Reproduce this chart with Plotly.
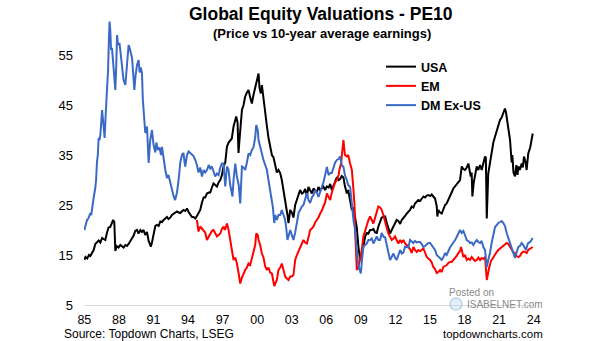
import plotly.graph_objects as go

# ---------------- data ----------------
usa_years = [1985.0, 1985.1, 1985.25, 1985.4, 1985.52, 1985.7, 1985.81, 1985.95, 1986.1, 1986.24, 1986.39, 1986.54, 1986.67, 1986.82, 1986.97,
             1987.1, 1987.25, 1987.4, 1987.5, 1987.6, 1987.69, 1987.8, 1987.97, 1988.12, 1988.27, 1988.41, 1988.56, 1988.7, 1988.84,
             1989.0, 1989.14, 1989.28, 1989.42, 1989.57, 1989.71, 1989.86, 1990.0, 1990.14, 1990.29, 1990.44, 1990.58, 1990.72, 1990.78,
             1990.87, 1991.01, 1991.16, 1991.31, 1991.45, 1991.59, 1991.74, 1991.88, 1992.03, 1992.17, 1992.3, 1992.46, 1992.6, 1992.75,
             1992.9, 1993.04, 1993.2, 1993.33, 1993.5, 1993.61, 1993.76, 1993.91, 1994.05, 1994.19, 1994.34, 1994.48, 1994.63, 1994.77,
             1994.91, 1995.06, 1995.21, 1995.35, 1995.49, 1995.64, 1995.8, 1995.93, 1996.07, 1996.21, 1996.36, 1996.51, 1996.65, 1996.8,
             1996.94, 1997.08, 1997.23, 1997.38, 1997.52, 1997.66, 1997.8, 1997.95, 1998.1, 1998.18, 1998.3, 1998.38, 1998.5, 1998.68,
             1998.82, 1998.96, 1999.11, 1999.25, 1999.4, 1999.54, 1999.68, 1999.83, 1999.95, 2000.05, 2000.12, 2000.2, 2000.32, 2000.41,
             2000.55, 2000.7, 2000.85, 2000.98, 2001.13, 2001.28, 2001.42, 2001.57, 2001.71, 2001.85, 2002.0, 2002.14, 2002.29, 2002.43,
             2002.52, 2002.63, 2002.72, 2002.87, 2003.01, 2003.15, 2003.3, 2003.45, 2003.6, 2003.73, 2003.88, 2004.02, 2004.17, 2004.32,
             2004.45, 2004.6, 2004.75, 2004.89, 2005.03, 2005.18, 2005.32, 2005.47, 2005.6, 2005.75, 2005.9, 2006.05, 2006.2, 2006.34,
             2006.48, 2006.62, 2006.77, 2006.92, 2007.07, 2007.2, 2007.34, 2007.49, 2007.6, 2007.78, 2007.9, 2008.07, 2008.22, 2008.36,
             2008.5, 2008.65, 2008.79, 2008.94, 2009.08, 2009.22, 2009.37, 2009.52, 2009.66, 2009.8, 2009.95, 2010.09, 2010.24, 2010.38,
             2010.52, 2010.67, 2010.81, 2010.95, 2011.11, 2011.24, 2011.39, 2011.54, 2011.68, 2011.83, 2011.97, 2012.11, 2012.26, 2012.41,
             2012.55, 2012.69, 2012.84, 2012.99, 2013.13, 2013.27, 2013.42, 2013.56, 2013.7, 2013.85, 2013.99, 2014.14, 2014.28, 2014.43,
             2014.57, 2014.72, 2014.86, 2015.01, 2015.15, 2015.29, 2015.44, 2015.59, 2015.64, 2015.73, 2015.88, 2016.02, 2016.16, 2016.31,
             2016.45, 2016.6, 2016.74, 2016.88, 2017.03, 2017.18, 2017.32, 2017.46, 2017.61, 2017.76, 2017.9, 2018.04, 2018.19, 2018.33,
             2018.45, 2018.54, 2018.62, 2018.68, 2018.8, 2018.91, 2019.06, 2019.2, 2019.35, 2019.49, 2019.65, 2019.78, 2019.85, 2019.93,
             2020.06, 2020.2, 2020.36, 2020.5, 2020.65, 2020.8, 2020.93, 2021.08, 2021.22, 2021.37, 2021.51, 2021.6, 2021.71, 2021.8,
             2021.95, 2022.09, 2022.15, 2022.25, 2022.38, 2022.5, 2022.6, 2022.67, 2022.8, 2022.96, 2023.06, 2023.16, 2023.3, 2023.39,
             2023.53, 2023.7, 2023.92]
usa_values = [14.0, 14.6, 14.3, 15.0, 14.8, 15.6, 16.0, 17.2, 17.6, 17.9, 17.5, 18.4, 18.2, 18.0, 19.5,
              20.5, 20.6, 21.5, 22.0, 21.6, 15.8, 16.8, 16.5, 17.0, 16.8, 16.5, 17.0, 16.8, 17.2,
              17.8, 18.3, 18.9, 19.8, 20.0, 19.3, 20.0, 19.6, 20.0, 19.0, 19.6, 17.8, 17.0, 16.7,
              17.5, 19.5, 20.8, 21.0, 20.8, 21.7, 21.6, 22.0, 22.4, 22.6, 22.2, 22.5, 23.0, 23.3,
              23.5, 23.7, 23.5, 23.4, 23.8, 24.0, 23.8, 24.3, 23.6, 23.0, 22.6, 22.6, 22.3, 22.8,
              23.3, 24.0, 25.5, 26.5, 26.5, 27.3, 27.5, 27.5, 28.5, 29.3, 29.0, 28.7, 29.5, 30.0,
              31.0, 32.7, 33.5, 36.7, 37.5, 38.0, 38.3, 40.7, 42.0, 42.7, 41.5, 35.4, 39.0, 44.0,
              45.0, 46.7, 47.5, 48.0, 46.5, 45.3, 47.0, 48.7, 50.0, 50.5, 51.3, 48.5, 47.3, 49.0,
              46.0, 44.0, 40.7, 38.5, 36.7, 35.0, 34.5, 32.5, 31.5, 32.0, 31.4, 30.0, 28.0, 26.5,
              24.7, 23.0, 21.4, 24.0, 23.5, 22.5, 25.0, 26.0, 27.0, 28.0, 27.3, 27.5, 28.2, 26.8,
              28.6, 28.0, 27.3, 28.3, 28.0, 27.5, 28.6, 28.0, 28.3, 28.7, 28.0, 28.7, 28.5, 29.2,
              28.0, 28.8, 30.0, 30.6, 30.0, 30.2, 30.8, 30.5, 29.0, 27.3, 28.0, 25.5, 24.0, 24.5,
              22.6, 20.5, 16.6, 14.0, 15.3, 16.6, 18.7, 19.4, 19.3, 20.0, 20.0, 20.2, 19.5, 19.4,
              20.7, 21.5, 22.5, 22.6, 22.7, 21.5, 20.6, 19.3, 20.0, 20.7, 21.3, 22.0, 21.8, 21.2,
              22.0, 22.3, 22.8, 23.3, 23.7, 24.0, 24.7, 24.5, 25.3, 25.6, 26.0, 25.8, 26.3, 26.7,
              26.5, 26.9, 27.0, 26.8, 27.1, 26.6, 26.3, 24.7, 22.7, 24.0, 23.5, 23.3, 24.2, 25.0,
              25.3, 26.2, 26.7, 27.5, 28.3, 28.7, 29.2, 29.5, 30.0, 32.7, 32.2, 32.0, 32.5, 33.3,
              32.0, 30.7, 31.5, 26.7, 29.5, 31.3, 32.7, 32.0, 33.0, 32.0, 33.5, 34.7, 34.5, 22.3,
              31.3, 33.5, 36.0, 37.5, 38.7, 40.0, 41.0, 42.0, 42.5, 43.7, 44.3, 43.5, 42.0, 40.5,
              38.0, 33.5, 35.0, 31.5, 30.7, 33.0, 31.0, 32.7, 32.0, 33.3, 32.5, 34.7, 33.5, 32.0,
              35.3, 36.5, 39.3]

em_years = [1994.77, 1994.85, 1994.91, 1995.06, 1995.21, 1995.35, 1995.49, 1995.64, 1995.8, 1995.93, 1996.07, 1996.21, 1996.36,
            1996.51, 1996.65, 1996.8, 1996.94, 1997.08, 1997.2, 1997.38, 1997.52, 1997.66, 1997.8, 1997.95, 1998.1, 1998.24, 1998.38,
            1998.53, 1998.68, 1998.82, 1998.96, 1999.11, 1999.25, 1999.4, 1999.54, 1999.68, 1999.83, 1999.92, 2000.05, 2000.12, 2000.26,
            2000.41, 2000.55, 2000.7, 2000.85, 2000.98, 2001.13, 2001.28, 2001.42, 2001.48, 2001.57, 2001.71, 2001.85, 2002.0, 2002.14,
            2002.29, 2002.43, 2002.58, 2002.72, 2002.87, 2003.01, 2003.15, 2003.3, 2003.45, 2003.6, 2003.73, 2003.88, 2004.02, 2004.17,
            2004.32, 2004.45, 2004.6, 2004.75, 2004.89, 2005.03, 2005.18, 2005.32, 2005.47, 2005.6, 2005.75, 2005.9, 2006.05, 2006.2,
            2006.34, 2006.48, 2006.62, 2006.77, 2006.92, 2007.07, 2007.14, 2007.3, 2007.34, 2007.49, 2007.55, 2007.62, 2007.78, 2007.9,
            2008.07, 2008.22, 2008.36, 2008.45, 2008.5, 2008.6, 2008.65, 2008.79, 2008.94, 2009.08, 2009.22, 2009.37, 2009.52, 2009.66,
            2009.8, 2009.95, 2010.09, 2010.24, 2010.38, 2010.52, 2010.67, 2010.81, 2010.95, 2011.11, 2011.24, 2011.39, 2011.54, 2011.68,
            2011.83, 2011.97, 2012.11, 2012.26, 2012.41, 2012.55, 2012.69, 2012.84, 2012.99, 2013.13, 2013.27, 2013.42, 2013.56, 2013.7,
            2013.85, 2013.99, 2014.14, 2014.28, 2014.43, 2014.57, 2014.72, 2014.86, 2015.01, 2015.15, 2015.29, 2015.44, 2015.59, 2015.73,
            2015.88, 2016.02, 2016.16, 2016.31, 2016.45, 2016.6, 2016.74, 2016.88, 2017.03, 2017.18, 2017.32, 2017.46, 2017.61, 2017.7,
            2017.76, 2017.9, 2018.04, 2018.19, 2018.33, 2018.48, 2018.62, 2018.77, 2018.91, 2019.06, 2019.2, 2019.35, 2019.49, 2019.63,
            2019.78, 2019.93, 2020.06, 2020.15, 2020.3, 2020.5, 2020.65, 2020.79, 2020.93, 2021.08, 2021.22, 2021.37, 2021.51, 2021.66,
            2021.8, 2021.95, 2022.09, 2022.23, 2022.38, 2022.52, 2022.67, 2022.8, 2022.96, 2023.1, 2023.25, 2023.39, 2023.53, 2023.7,
            2023.92]
em_values = [22.0, 20.5, 19.7, 20.7, 20.3, 20.0, 19.5, 18.0, 18.8, 19.3, 19.8, 20.0, 19.2,
             18.7, 19.0, 19.3, 20.2, 20.7, 20.0, 21.3, 20.0, 18.0, 16.0, 14.0, 14.5, 13.3, 11.5,
             9.3, 10.5, 11.3, 12.0, 12.5, 13.3, 13.0, 14.5, 15.3, 17.0, 19.3, 19.0, 18.0, 17.0,
             15.3, 14.5, 12.7, 12.0, 12.5, 11.5, 11.3, 9.5, 8.8, 9.3, 10.0, 12.0, 12.5, 13.3,
             12.0, 10.7, 10.3, 10.0, 10.7, 10.7, 11.0, 14.0, 15.0, 15.8, 16.7, 17.5, 18.0, 17.5,
             17.3, 18.5, 20.0, 20.3, 20.7, 21.5, 22.0, 22.5, 23.3, 23.8, 24.7, 25.5, 27.3, 26.5,
             26.0, 27.5, 28.7, 29.5, 30.0, 31.0, 32.0, 33.5, 34.7, 38.0, 36.5, 35.0, 34.7, 35.0,
             33.3, 32.0, 28.0, 25.0, 20.0, 15.0, 12.0, 12.5, 14.0, 16.0, 18.7, 20.0, 21.3, 22.0,
             22.7, 22.0, 21.3, 22.5, 23.5, 24.7, 24.5, 24.0, 23.0, 21.3, 20.5, 19.3, 18.5, 18.0,
             18.3, 18.7, 18.0, 17.3, 18.0, 17.5, 18.0, 17.3, 17.0, 16.7, 16.2, 15.4, 16.6, 16.0,
             15.6, 16.0, 15.8, 16.0, 16.3, 15.5, 14.6, 14.3, 14.0, 13.5, 12.6, 12.2, 11.4, 11.6,
             12.0, 11.6, 12.6, 12.8, 13.0, 13.4, 13.6, 13.6, 14.0, 14.3, 14.8, 15.4, 15.8, 16.6,
             16.0, 14.6, 15.0, 14.0, 14.3, 14.0, 14.6, 14.2, 13.8, 14.0, 14.5, 14.0, 14.4, 14.2,
             14.6, 10.0, 12.0, 12.6, 13.8, 14.6, 15.3, 15.6, 16.0, 16.3, 16.6, 16.8, 17.0, 17.4,
             17.2, 16.6, 16.0, 15.6, 15.4, 14.8, 14.6, 14.8, 15.4, 15.7, 15.6, 15.4, 16.0, 16.2,
             16.6]

dm_years = [1985.0, 1985.1, 1985.23, 1985.35, 1985.52, 1985.6, 1985.7, 1985.81, 1985.95, 1986.02, 1986.1, 1986.17, 1986.24,
            1986.32, 1986.39, 1986.47, 1986.54, 1986.62, 1986.76, 1986.85, 1986.97, 1987.06, 1987.13, 1987.19, 1987.25, 1987.32,
            1987.4, 1987.5, 1987.6, 1987.69, 1987.77, 1987.84, 1987.92, 1988.05, 1988.12, 1988.27, 1988.4, 1988.56, 1988.68, 1988.84,
            1988.92, 1989.05, 1989.14, 1989.28, 1989.34, 1989.45, 1989.57, 1989.71, 1989.8, 1989.9, 1990.0, 1990.08, 1990.2, 1990.29,
            1990.44, 1990.52, 1990.58, 1990.72, 1990.87, 1991.01, 1991.16, 1991.25, 1991.38, 1991.53, 1991.65, 1991.74, 1991.88,
            1992.03, 1992.17, 1992.3, 1992.46, 1992.6, 1992.75, 1992.88, 1993.04, 1993.18, 1993.33, 1993.47, 1993.61, 1993.7, 1993.76,
            1993.91, 1994.05, 1994.19, 1994.34, 1994.48, 1994.63, 1994.77, 1994.91, 1995.06, 1995.21, 1995.35, 1995.49, 1995.64,
            1995.8, 1995.93, 1996.07, 1996.21, 1996.36, 1996.51, 1996.65, 1996.8, 1996.94, 1997.08, 1997.23, 1997.38, 1997.52,
            1997.66, 1997.86, 1997.95, 1998.1, 1998.24, 1998.4, 1998.53, 1998.68, 1998.82, 1998.96, 1999.11, 1999.25, 1999.4,
            1999.54, 1999.68, 1999.83, 1999.92, 2000.05, 2000.12, 2000.26, 2000.41, 2000.55, 2000.7, 2000.85, 2000.98, 2001.13,
            2001.28, 2001.37, 2001.48, 2001.57, 2001.71, 2001.85, 2002.0, 2002.14, 2002.29, 2002.43, 2002.52, 2002.63, 2002.75,
            2002.87, 2003.01, 2003.15, 2003.3, 2003.45, 2003.6, 2003.73, 2003.88, 2004.02, 2004.17, 2004.32, 2004.45, 2004.6,
            2004.75, 2004.89, 2005.03, 2005.18, 2005.32, 2005.47, 2005.6, 2005.75, 2005.9, 2006.05, 2006.2, 2006.34, 2006.48,
            2006.62, 2006.77, 2006.92, 2007.07, 2007.2, 2007.34, 2007.49, 2007.62, 2007.78, 2007.9, 2008.07, 2008.22, 2008.36,
            2008.5, 2008.6, 2008.72, 2008.8, 2008.94, 2009.0, 2009.1, 2009.22, 2009.37, 2009.52, 2009.66, 2009.8, 2009.95, 2010.09,
            2010.24, 2010.38, 2010.52, 2010.67, 2010.81, 2010.95, 2011.11, 2011.24, 2011.39, 2011.54, 2011.68, 2011.83, 2011.97,
            2012.11, 2012.26, 2012.41, 2012.55, 2012.69, 2012.84, 2012.99, 2013.13, 2013.27, 2013.42, 2013.56, 2013.7, 2013.85,
            2013.99, 2014.14, 2014.28, 2014.43, 2014.57, 2014.72, 2014.86, 2015.01, 2015.15, 2015.29, 2015.44, 2015.59, 2015.73,
            2015.88, 2016.02, 2016.16, 2016.31, 2016.45, 2016.6, 2016.74, 2016.88, 2017.03, 2017.18, 2017.32, 2017.46, 2017.61,
            2017.76, 2017.9, 2018.04, 2018.19, 2018.33, 2018.48, 2018.62, 2018.77, 2018.91, 2019.06, 2019.2, 2019.35, 2019.49,
            2019.63, 2019.78, 2019.93, 2020.06, 2020.21, 2020.36, 2020.5, 2020.65, 2020.8, 2020.93, 2021.08, 2021.22, 2021.37,
            2021.51, 2021.66, 2021.8, 2021.95, 2022.09, 2022.23, 2022.38, 2022.52, 2022.67, 2022.8, 2022.96, 2023.1, 2023.25,
            2023.33, 2023.45, 2023.53, 2023.7, 2023.92]
dm_values = [20.0, 21.0, 22.0, 22.3, 23.4, 23.0, 25.0, 26.5, 28.4, 30.0, 33.7, 35.0, 38.4,
             38.0, 39.0, 41.5, 44.0, 42.0, 38.4, 43.0, 47.0, 52.0, 58.0, 61.7, 60.0, 56.0,
             56.4, 54.0, 51.0, 48.0, 53.0, 59.0, 57.0, 57.4, 56.0, 52.0, 50.0, 49.0, 53.0, 57.0,
             56.5, 55.0, 54.4, 50.0, 48.0, 51.0, 53.0, 54.0, 51.5, 52.5, 51.4, 46.0, 42.0, 39.4,
             40.7, 36.0, 33.4, 38.0, 40.0, 37.0, 35.5, 37.5, 36.0, 36.5, 35.0, 36.6, 34.0,
             32.0, 30.4, 31.0, 29.5, 28.0, 26.7, 26.0, 27.5, 30.0, 33.5, 35.0, 35.4, 33.5, 32.7,
             35.0, 35.7, 35.4, 35.0, 34.8, 34.0, 33.0, 31.5, 32.5, 30.7, 32.0, 31.5, 32.0,
             33.0, 32.3, 32.7, 31.8, 30.7, 31.3, 31.0, 32.5, 33.3, 33.3, 28.7, 32.7, 32.0,
             29.0, 26.7, 30.0, 33.3, 30.7, 29.0, 25.3, 32.7, 32.5, 32.0, 33.5, 35.3, 35.0,
             36.0, 36.5, 38.5, 41.0, 40.0, 38.0, 36.5, 35.0, 34.0, 33.0, 32.0, 30.0, 28.0,
             26.0, 24.5, 21.4, 23.0, 22.0, 23.0, 23.0, 24.0, 23.0, 22.0, 20.5, 18.0, 19.0,
             20.0, 19.0, 18.0, 19.5, 22.0, 23.5, 24.0, 24.7, 25.0, 26.0, 27.4, 26.0, 25.4,
             26.5, 27.0, 28.0, 27.5, 26.6, 27.5, 28.5, 29.5, 31.0, 32.6, 31.0, 31.4, 31.4,
             32.5, 33.5, 34.0, 34.2, 34.7, 33.0, 32.6, 31.0, 30.0, 29.0, 28.6, 24.6, 22.0,
             20.0, 16.7, 14.0, 12.7, 11.4, 11.3, 14.0, 16.7, 17.0, 17.3, 18.0, 18.0, 18.3, 17.3,
             18.0, 18.7, 18.0, 18.0, 19.4, 18.7, 18.5, 16.7, 15.5, 14.0, 14.6, 15.3, 14.5,
             14.0, 15.0, 16.0, 15.3, 15.5, 16.7, 16.6, 16.5, 18.0, 17.6, 17.4, 17.8, 17.5,
             17.6, 17.6, 17.2, 16.6, 16.8, 17.2, 17.4, 17.4, 17.0, 16.6, 16.0, 15.0, 14.6,
             14.4, 14.0, 14.5, 15.4, 15.0, 16.0, 16.5, 17.0, 17.4, 18.0, 18.6, 19.2, 20.0,
             19.4, 19.8, 19.0, 18.0, 17.8, 17.4, 17.5, 17.0, 17.6, 18.0, 17.6, 17.4, 17.8,
             16.6, 16.0, 12.6, 14.0, 15.4, 17.5, 19.0, 20.6, 21.0, 21.4, 21.6, 21.8, 21.4,
             20.8, 19.4, 18.4, 17.4, 16.5, 15.6, 14.4, 15.5, 16.6, 16.8, 17.4, 17.0, 16.4,
             16.0, 17.0, 17.4, 17.6, 18.4]

tick_years = [1985, 1988, 1991, 1994, 1997, 2000, 2003, 2006, 2009, 2012, 2015, 2018, 2021, 2024]
tick_labels = ["85", "88", "91", "94", "97", "00", "03", "06", "09", "12", "15", "18", "21", "24"]
y_ticks = [5, 15, 25, 35, 45, 55]

series_names = ["USA", "EM", "DM Ex-US"]
series_colors = ["#000000", "#ff0000", "#3a6ac6"]

# ---------------- figure ----------------
FONT = "Liberation Sans, Arial, sans-serif"
L, R, T, B = 84, 71, 15, 36
W, H = 605, 341
PW, PH = W - L - R, H - T - B


def px(x):
    return (x - L) / PW


def py(y):
    return (H - B - y) / PH


fig = go.Figure()
for name, xs, ys, col in zip(series_names,
                             [usa_years, em_years, dm_years],
                             [usa_values, em_values, dm_values],
                             series_colors):
    fig.add_trace(go.Scatter(x=xs, y=ys, mode="lines", name="<b>" + name + "</b>",
                             line=dict(color=col, width=2)))

annotations = [
    dict(text="<b>Global Equity Valuations - PE10</b>", x=px(321), y=py(14),
         font=dict(size=17.5, color="#000000")),
    dict(text="<b>(Price vs 10-year average earnings)</b>", x=px(322), y=py(33),
         font=dict(size=13, color="#000000")),
    dict(text="Source: Topdown Charts, LSEG", x=px(62), y=py(334), xanchor="left",
         font=dict(size=12, color="#000000")),
    dict(text="topdowncharts.com", x=px(545), y=py(334), xanchor="right",
         font=dict(size=11.5, color="#000000")),
    dict(text="Posted on", x=px(447), y=py(292), xanchor="left",
         font=dict(size=10, color="#8a8a8a")),
    dict(text="ISABELNET.com", x=px(465), y=py(304), xanchor="left",
         font=dict(size=10, color="#8a8a8a")),
]
for a in annotations:
    a.setdefault("xanchor", "center")
    a.update(xref="paper", yref="paper", yanchor="middle", showarrow=False)

fig.update_layout(
    width=W, height=H,
    margin=dict(l=L, r=R, t=T, b=B, pad=0),
    paper_bgcolor="white", plot_bgcolor="white",
    font=dict(family=FONT, size=13, color="#000000"),
    showlegend=True,
    legend=dict(x=px(381), y=py(52), xanchor="left", yanchor="top",
                bgcolor="rgba(0,0,0,0)", font=dict(size=12.5, color="#000000"),
                itemwidth=30, tracegroupgap=0),
    annotations=annotations,
    shapes=[dict(type="circle", xref="paper", yref="paper",
                 x0=px(450), x1=px(462), y0=py(310), y1=py(298),
                 line=dict(color="#b9d3e6", width=1.5), fillcolor="rgba(185,211,230,0.35)")],
)
fig.update_xaxes(range=[1984.97, 2024.03], tickvals=tick_years, ticktext=tick_labels,
                 showgrid=False, zeroline=False, showline=True, linecolor="#d9d9d9",
                 linewidth=1, ticks="", ticklabelstandoff=3,
                 tickfont=dict(size=12.5, color="#000000"))
fig.update_yaxes(range=[5, 63], tickvals=y_ticks, showgrid=False, zeroline=False,
                 showline=False, ticks="", ticklabelstandoff=10,
                 tickfont=dict(size=13, color="#000000"))

fig.write_html("out.html")
